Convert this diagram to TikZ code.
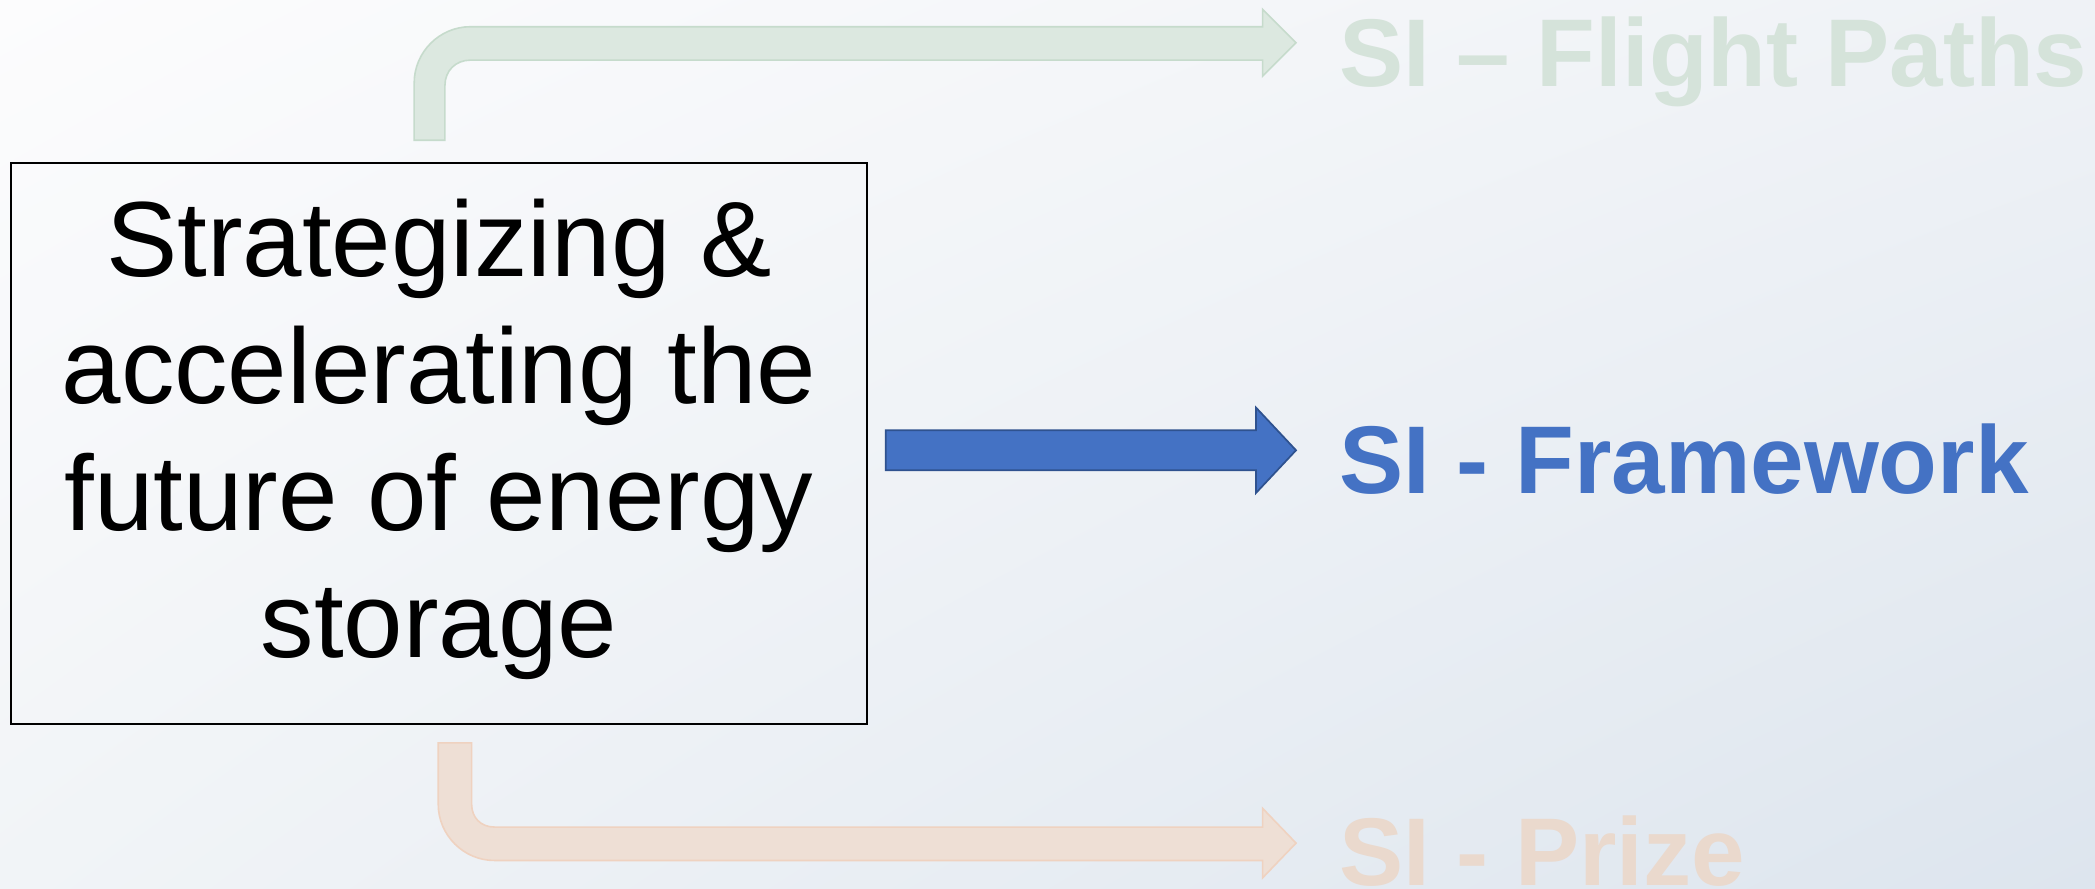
\documentclass[tikz,border=0pt]{standalone}
\usepackage{fontspec}
\setmainfont{Liberation Sans}
\usetikzlibrary{shadings}
\definecolor{bgTL}{HTML}{FCFCFD}
\definecolor{bgTR}{HTML}{EFF2F6}
\definecolor{bgBL}{HTML}{F1F4F7}
\definecolor{bgBR}{HTML}{DDE5EE}
\definecolor{greenFill}{HTML}{DCE8E0}
\definecolor{greenLine}{HTML}{C6DBCC}
\definecolor{greenText}{HTML}{D5E3DA}
\definecolor{orangeFill}{HTML}{EEDFD5}
\definecolor{orangeLine}{HTML}{EFD2C0}
\definecolor{orangeText}{HTML}{EAD9CD}
\definecolor{blueFill}{HTML}{4472C4}
\definecolor{blueLine}{HTML}{2F528F}
\tikzset{
  mainbox/.style={draw=black, line width=1.3pt, minimum width=641pt, minimum height=420pt, inner sep=0pt},
  maintext/.style={align=center, inner sep=0pt, font=\fontsize{80}{95}\selectfont},
  silabel/.style={anchor=base west, inner sep=0pt, font=\fontsize{72}{80}\selectfont\bfseries},
  fadedgreen/.style={fill=greenFill, draw=greenLine, line width=1.2pt, line join=miter},
  fadedorange/.style={fill=orangeFill, draw=orangeLine, line width=1.2pt, line join=miter},
  bluearrow/.style={fill=blueFill, draw=blueLine, line width=1.3pt, line join=miter}
}
\begin{document}
\begin{tikzpicture}[x=1pt,y=-1pt]
\useasboundingbox (0,0) rectangle (1568,665);
\shade[upper left=bgTL, upper right=bgTR, lower left=bgBL, lower right=bgBR] (0,0) rectangle (1568,665);

% main box
\node[mainbox] (main) at (328.5,332) {};
\node[maintext] (mtext) at (328.5,329) {Strategizing \&\\accelerating the\\future of energy\\storage};

% labels
\node[silabel, text=greenText] (flight) at (1002,65) {SI – Flight Paths};
\node[silabel, text=blueFill] (frame) at (1002,369) {SI - Framework};
\node[silabel, text=orangeText] (prize) at (1002,663) {SI - Prize};

% top bent arrow
\draw[fadedgreen] (310,105) -- (310,62) .. controls (310,39) and (329,20) .. (352,20)
  -- (945,20) -- (945,7) -- (970,32) -- (945,57) -- (945,45) -- (352,45)
  .. controls (341,45) and (333,53) .. (333,64) -- (333,105) -- cycle;

% bottom bent arrow
\draw[fadedorange] (328,556) -- (328,602) .. controls (328,625) and (347,644) .. (370,644)
  -- (945,644) -- (945,657) -- (970,631) -- (945,605) -- (945,619) -- (370,619)
  .. controls (360,619) and (353,612) .. (353,602) -- (353,556) -- cycle;

% middle arrow
\draw[bluearrow] (663,322) -- (940,322) -- (940,305) -- (970,337) -- (940,369) -- (940,352) -- (663,352) -- cycle;
\end{tikzpicture}
\end{document}
